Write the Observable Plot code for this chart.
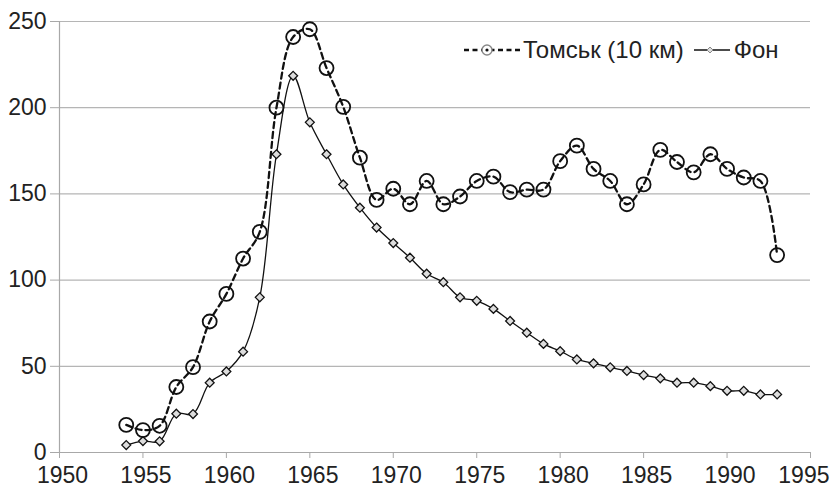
<!DOCTYPE html>
<html>
<head>
<meta charset="utf-8">
<script src="https://cdn.jsdelivr.net/npm/d3@7"></script>
<script src="https://cdn.jsdelivr.net/npm/@observablehq/plot@0.6"></script>
<style>
  html, body { margin: 0; padding: 0; background: #fff; }
  #wrap { position: relative; width: 832px; height: 487px; font-family: "Liberation Sans", Arial, sans-serif; }
  #legend { position: absolute; left: 463px; top: 36px; height: 28px; line-height: 28px; display: flex; align-items: center; font-size: 24px; color: #222; white-space: nowrap; }
  #legend svg { display: block; }
</style>
</head>
<body>
<div id="wrap"></div>
<script>
const years = d3.range(1954, 1994);
const tomsk = [16, 13, 15.5, 38, 49.5, 76, 92, 112.5, 128, 200,
  241, 245.5, 223, 200.5, 171, 146.5, 153, 144, 157.5, 144,
  148.5, 157.5, 160, 151, 152.5, 152.5, 169, 178, 164.5, 157.5,
  144, 155.5, 175.5, 168.5, 162.5, 173, 164.5, 159.5, 157.5, 114.5];
const fon = [4.3, 6.6, 6.5, 22.5, 22.3, 40.5, 47, 58.5, 90, 173,
  218.5, 191.5, 173, 155.5, 142, 130.5, 121.5, 113, 103.7, 98.8,
  90, 88, 83.3, 76.3, 69.5, 63, 58.8, 54, 51.7, 49.4,
  47.3, 44.9, 43, 40.5, 40.5, 38.5, 35.8, 35.8, 33.7, 33.7];
const seriesNames = ["Томськ (10 км)", "Фон"];
const xTicks = d3.range(1950, 1996, 5);
const yTicks = [0, 50, 100, 150, 200, 250];

const tomskData = years.map((y, i) => ({year: y, value: tomsk[i]}));
const fonData = years.map((y, i) => ({year: y, value: fon[i]}));

const chart = Plot.plot({
  width: 832,
  height: 487,
  marginLeft: 59,
  marginRight: 22,
  marginTop: 21,
  marginBottom: 35,
  style: {fontFamily: '"Liberation Sans", Arial, sans-serif', fontSize: "23px", color: "#222", background: "#fff", overflow: "visible"},
  x: {domain: [1950, 1995]},
  y: {domain: [0, 250]},
  marks: [
    Plot.ruleY(yTicks.filter(d => d > 0), {stroke: "#b5b5b5", strokeWidth: 1.2}),
    Plot.ruleY([0], {stroke: "#a8a8a8", strokeWidth: 1.2}),
    Plot.ruleX([1950], {stroke: "#a8a8a8", strokeWidth: 1.2}),
    Plot.axisX({ticks: xTicks, tickFormat: () => "", tickSize: 6, stroke: "#a8a8a8", label: null}),
    Plot.axisX({ticks: xTicks.slice(0, -1), tickFormat: d => String(d), tickSize: 0, tickPadding: 14, dx: 3, fill: "#222", fontSize: 23, label: null}),
    Plot.axisX({ticks: xTicks.slice(-1), tickFormat: d => String(d), tickSize: 0, tickPadding: 14, dx: 19, textAnchor: "end", fill: "#222", fontSize: 23, label: null}),
    Plot.axisY({ticks: yTicks, tickSize: 9, tickPadding: 4, stroke: "#a8a8a8", fill: "#222", fontSize: 23, label: null}),
    Plot.line(fonData, {x: "year", y: "value", stroke: "#111", strokeWidth: 1.3, curve: "catmull-rom"}),
    Plot.dot(fonData, {x: "year", y: "value", symbol: "diamond2", r: 4, stroke: "#111", strokeWidth: 1.3, fill: "#ddd"}),
    Plot.line(tomskData, {x: "year", y: "value", stroke: "#111", strokeWidth: 2.3, strokeDasharray: "6,4", curve: "catmull-rom"}),
    Plot.dot(tomskData, {x: "year", y: "value", symbol: "circle", r: 7, stroke: "#111", strokeWidth: 1.8, fill: "none"})
  ]
});

const wrap = document.getElementById("wrap");
wrap.appendChild(chart);

const legend = document.createElement("div");
legend.id = "legend";
legend.innerHTML =
  `<svg width="57" height="20"><line x1="1" y1="10" x2="57" y2="10" stroke="#111" stroke-width="2.3" stroke-dasharray="5,3.5"/><circle cx="24" cy="10" r="5" fill="#fff" stroke="#888" stroke-width="1.4"/><circle cx="24" cy="10" r="1.6" fill="#111"/></svg>` +
  `<span style="margin-left:3px">${seriesNames[0]}</span>` +
  `<svg width="38" height="20" style="margin-left:9px"><line x1="1" y1="10" x2="37" y2="10" stroke="#111" stroke-width="1.3"/><path d="M17,7 L20,10 L17,13 L14,10 Z" fill="#ddd" stroke="#888" stroke-width="1"/></svg>` +
  `<span style="margin-left:3px">${seriesNames[1]}</span>`;
wrap.appendChild(legend);
</script>
</body>
</html>
